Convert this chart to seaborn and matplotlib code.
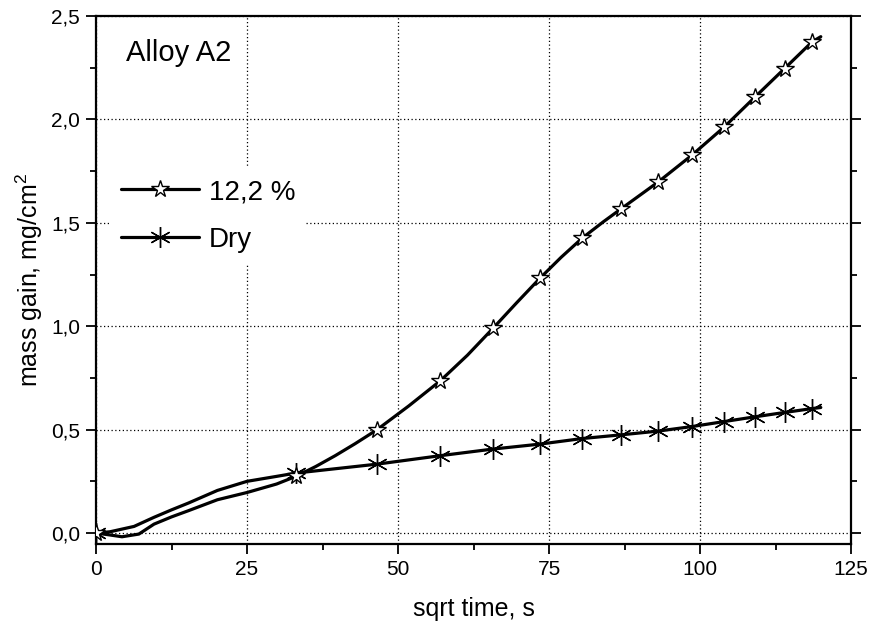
import numpy as np
import pandas as pd
import matplotlib
matplotlib.use("Agg")
import matplotlib.pyplot as plt
import seaborn as sns
from matplotlib.lines import Line2D
from matplotlib.ticker import FuncFormatter, MultipleLocator

# ---- data ----
# marker points (shared sqrt-time positions)
marker_x = [0, 33.1, 46.5, 57.0, 65.7, 73.5, 80.5, 87.0, 93.1, 98.7, 104.0, 109.1, 114.0, 118.6]
wet_marker_y = [0, 0.277, 0.499, 0.736, 0.989, 1.232, 1.426, 1.569, 1.698, 1.828, 1.963, 2.108, 2.246, 2.376]
dry_marker_y = [0, 0.290, 0.333, 0.374, 0.406, 0.430, 0.457, 0.475, 0.493, 0.515, 0.539, 0.562, 0.583, 0.602]

# continuous curves (denser readings)
wet_line_x = [0, 2.0, 4.3, 7.1, 9.6, 12.5, 15.3, 20.1, 25.0, 29.9, 33.1, 36.4, 39.6, 42.9, 46.5, 51.8, 57.0,
              61.5, 65.7, 69.6, 73.5, 77.0, 80.5, 84.0, 87.0, 93.1, 98.7, 104.0, 109.1, 114.0, 118.6, 120.0]
wet_line_y = [0, -0.008, -0.018, -0.005, 0.043, 0.078, 0.108, 0.161, 0.196, 0.237, 0.274, 0.322, 0.374, 0.432,
              0.499, 0.615, 0.736, 0.860, 0.989, 1.112, 1.232, 1.333, 1.426, 1.505, 1.569, 1.698, 1.828, 1.963,
              2.108, 2.246, 2.376, 2.400]
dry_line_x = [0, 2.3, 6.3, 9.6, 12.5, 15.3, 20.1, 25.0, 29.9, 33.1, 46.5, 57.0, 65.7, 73.5, 80.5,
              87.0, 93.1, 98.7, 104.0, 109.1, 114.0, 118.6, 120.0]
dry_line_y = [0, 0.006, 0.032, 0.076, 0.112, 0.145, 0.206, 0.250, 0.274, 0.290, 0.333, 0.374, 0.406, 0.430,
              0.457, 0.475, 0.493, 0.515, 0.539, 0.562, 0.583, 0.602, 0.607]

labels = ["12,2 %", "Dry"]
x_ticks = [0, 25, 50, 75, 100, 125]
y_ticks = [0.0, 0.5, 1.0, 1.5, 2.0, 2.5]

sns.set_theme(style="white")
plt.rcParams['font.family'] = ['Liberation Sans', 'DejaVu Sans']
plt.rcParams['mathtext.fontset'] = 'custom'
plt.rcParams['mathtext.rm'] = 'Liberation Sans'
plt.rcParams['text.color'] = 'black'
plt.rcParams['axes.labelcolor'] = 'black'
plt.rcParams['xtick.color'] = 'black'
plt.rcParams['ytick.color'] = 'black'

fig = plt.figure(figsize=(8.71, 6.24), dpi=100)
ax = fig.add_axes([96/871, 1-544/624, 755/871, 528/624])

LW = 2.3
sns.lineplot(x=wet_line_x, y=wet_line_y, ax=ax, color='black', lw=LW, sort=False, zorder=3)
sns.lineplot(x=dry_line_x, y=dry_line_y, ax=ax, color='black', lw=LW, sort=False, zorder=3)

asterisk = (6, 2, 0)
ax.plot(marker_x, dry_marker_y, ls='none', marker=asterisk, ms=15, mec='black', mew=1.0, zorder=4)
ax.plot(marker_x, wet_marker_y, ls='none', marker='*', ms=13, mfc='white', mec='black', mew=1.0, zorder=5)

ax.set_xlim(0, 125)
ax.set_ylim(-0.053, 2.5)
ax.set_xticks(x_ticks)
ax.set_yticks(y_ticks)
ax.xaxis.set_minor_locator(MultipleLocator(12.5))
ax.yaxis.set_minor_locator(MultipleLocator(0.25))
ax.xaxis.set_major_formatter(FuncFormatter(lambda v, p: f"{v:.0f}"))
ax.yaxis.set_major_formatter(FuncFormatter(lambda v, p: f"{v:.1f}".replace('.', ',')))

ax.grid(True, which='major', ls=(0, (1, 2)), lw=0.9, color='black')
for s in ax.spines.values():
    s.set_visible(True)
    s.set_color('black')
    s.set_linewidth(1.6)

ax.tick_params(axis='both', which='major', direction='out', length=7.5, width=1.3,
               labelsize=15, colors='black', left=True, bottom=True, right=True, pad=4)
ax.tick_params(axis='both', which='minor', direction='out', length=4, width=1.3,
               left=True, bottom=True, right=True)
ax.tick_params(axis='y', which='both', labelright=False)

ax.set_xlabel("sqrt time, s", fontsize=18, labelpad=13)
ax.set_ylabel("mass gain, mg/cm$^2$", fontsize=18, labelpad=4)

ax.text(5.0, 2.28, "Alloy A2", fontsize=21, va='baseline', ha='left')

handles = [
    Line2D([], [], color='black', lw=LW, marker='*', ms=13, mfc='white', mec='black', mew=1.0),
    Line2D([], [], color='black', lw=LW, marker=asterisk, ms=15, mec='black', mew=1.0),
]
leg = ax.legend(handles, labels, loc='upper left', bbox_to_anchor=(0.0185, 0.712),
                borderaxespad=0, frameon=True, fontsize=20, handlelength=2.8,
                handletextpad=0.35, labelspacing=0.78, borderpad=0.4, fancybox=False)
leg.get_frame().set_facecolor('white')
leg.get_frame().set_edgecolor('none')
leg.get_frame().set_alpha(1.0)
leg.set_zorder(6)

fig.savefig("out.png", dpi=100)
